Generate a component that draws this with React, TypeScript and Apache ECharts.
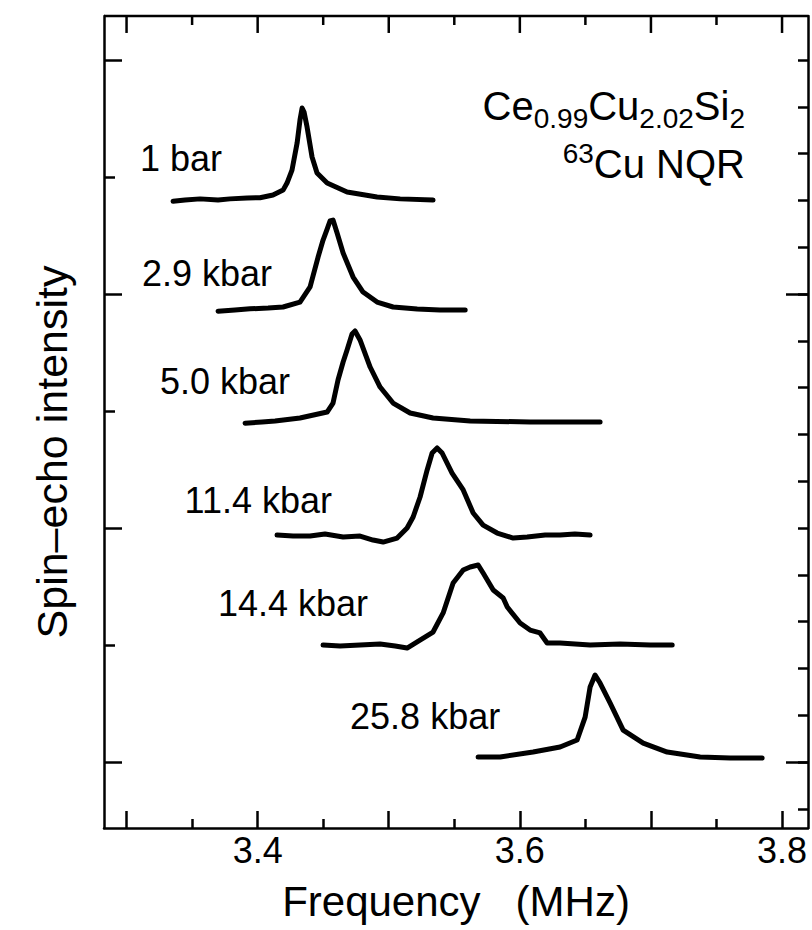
import React, { useEffect, useRef } from "react";
import * as echarts from "echarts";

// ---- data (frequency in MHz, intensity relative to each trace's baseline) ----
const pressureLabels = ["1 bar", "2.9 kbar", "5.0 kbar", "11.4 kbar", "14.4 kbar", "25.8 kbar"];
const baselineOffsets = [4.803, 3.863, 2.906, 1.94, 1.0, 0.034];

const spec1bar: [number, number][] = [
  [3.3355, -0.01], [3.3446, 0.0], [3.3561, 0.01], [3.3698, 0.0], [3.3789, 0.01], [3.392, 0.017],
  [3.4018, 0.02], [3.4117, 0.043], [3.4194, 0.085], [3.4224, 0.145], [3.4262, 0.256], [3.4301, 0.487],
  [3.4323, 0.684], [3.4339, 0.786], [3.4354, 0.752], [3.4377, 0.624], [3.4415, 0.368], [3.4453, 0.231],
  [3.453, 0.145], [3.4682, 0.068], [3.4911, 0.026], [3.5087, 0.01], [3.5338, 0.0],
];
const spec2p9: [number, number][] = [
  [3.3698, -0.01], [3.3827, 0.0], [3.3942, 0.01], [3.408, 0.017], [3.4194, 0.026], [3.4323, 0.068],
  [3.44, 0.197], [3.4461, 0.453], [3.4499, 0.598], [3.453, 0.692], [3.4552, 0.761], [3.4575, 0.769],
  [3.4606, 0.658], [3.4652, 0.487], [3.4728, 0.282], [3.4804, 0.154], [3.4911, 0.068], [3.5033, 0.026],
  [3.5217, 0.009], [3.539, 0.0], [3.5583, 0.0],
];
const spec5p0: [number, number][] = [
  [3.3904, -0.01], [3.4034, 0.0], [3.4133, 0.009], [3.4323, 0.034], [3.453, 0.085], [3.4575, 0.162],
  [3.4613, 0.359], [3.4652, 0.513], [3.4682, 0.615], [3.472, 0.752], [3.4743, 0.778], [3.4781, 0.701],
  [3.4858, 0.47], [3.4934, 0.299], [3.5033, 0.162], [3.5163, 0.077], [3.5338, 0.034], [3.5621, 0.009],
  [3.6078, 0.0], [3.6612, 0.0],
];
const spec11p4: [number, number][] = [
  [3.4148, 0.0], [3.427, -0.009], [3.44, -0.009], [3.4514, 0.009], [3.4652, -0.017], [3.4781, -0.009],
  [3.488, -0.043], [3.4957, -0.06], [3.5064, -0.026], [3.514, 0.06], [3.5186, 0.154], [3.5239, 0.325],
  [3.5293, 0.556], [3.5331, 0.701], [3.5369, 0.744], [3.5407, 0.701], [3.5483, 0.53], [3.5568, 0.385],
  [3.5644, 0.188], [3.572, 0.085], [3.5827, 0.017], [3.5949, -0.026], [3.6056, -0.017], [3.6193, 0.0],
  [3.6307, 0.0], [3.642, 0.009], [3.6536, 0.0],
];
const spec14p4: [number, number][] = [
  [3.4499, 0.0], [3.4629, -0.009], [3.4781, 0.0], [3.4934, 0.009], [3.5049, -0.009], [3.514, -0.026],
  [3.5217, 0.026], [3.5338, 0.111], [3.5415, 0.274], [3.5491, 0.53], [3.5568, 0.641], [3.5621, 0.667],
  [3.5682, 0.684], [3.572, 0.615], [3.5797, 0.47], [3.5873, 0.402], [3.5904, 0.325], [3.6002, 0.188],
  [3.6078, 0.128], [3.6154, 0.103], [3.6208, 0.017], [3.6307, 0.017], [3.6536, 0.0], [3.6765, 0.009],
  [3.6994, 0.0], [3.7162, 0.0],
];
const spec25p8: [number, number][] = [
  [3.5682, 0.009], [3.585, 0.009], [3.6101, 0.051], [3.6307, 0.094], [3.6437, 0.154], [3.6498, 0.35],
  [3.6536, 0.607], [3.6574, 0.709], [3.6612, 0.641], [3.6689, 0.47], [3.6788, 0.239], [3.6941, 0.128],
  [3.7124, 0.051], [3.7375, 0.009], [3.7604, 0.0], [3.7848, 0.0],
];
const spectra = [spec1bar, spec2p9, spec5p0, spec11p4, spec14p4, spec25p8];

// label anchor: [frequency of label's right end, vertical value of label middle]
const labelAnchors: [number, number][] = [
  [3.3728, 5.162], [3.411, 4.179], [3.4247, 3.256], [3.4567, 2.239], [3.4842, 1.359], [3.585, 0.393],
];

const xMajorTicks = [3.3, 3.4, 3.5, 3.6, 3.7, 3.8];
const xMinorTicks = [3.35, 3.45, 3.55, 3.65, 3.75];
const xTickLabels = [3.4, 3.6, 3.8];
const yLeftMajor = [0, 2, 4, 6];
const yLeftMinor = [1, 3, 5];
const yRightMinor = [-0.4, 0, 0.4, 0.8, 1.2, 1.6, 2.0, 2.4, 2.8, 3.2, 3.6, 4.0, 4.4, 4.8, 5.2, 5.6, 6.0];
const yRightMajor = [0, 4];

const FONT = "Liberation Sans";
const X_MIN = 3.2828;
const X_MAX = 3.8198;
const Y_MIN = -0.564;
const Y_MAX = 6.376;
// top-frame tick lengths in y-axis units (the frame has no axis of its own)
const TOP_MAJOR_LEN = 0.145;
const TOP_MINOR_LEN = 0.077;

function measure(t: string, size: number) {
  const ctx = document.createElement("canvas").getContext("2d");
  if (!ctx) return t.length * size * 0.55;
  ctx.font = `${size}px "${FONT}"`;
  return ctx.measureText(t).width;
}

type Seg = { t: string; size: number; dy: number };
function buildLine(segs: Seg[], right: number, baseline: number) {
  const widths = segs.map((s) => measure(s.t, s.size));
  let x = right - widths.reduce((a, b) => a + b, 0);
  return segs.map((s, i) => {
    const el = {
      type: "text",
      x,
      y: baseline + s.dy - 0.3465 * s.size,
      silent: true,
      style: { text: s.t, fontSize: s.size, fontFamily: FONT, fill: "#000", align: "left", verticalAlign: "middle" },
    };
    x += widths[i];
    return el;
  });
}

const plotRect = () => ({ left: 104, right: 4, top: 16, bottom: 102 });
const lineOn = () => ({ show: true, onZero: false, lineStyle: { color: "#000", width: 2.5 } });
const lineOff = () => ({ show: false, onZero: false });
const tick = (len: number, values: number[]) => ({
  show: true,
  inside: true,
  length: len,
  customValues: values,
  lineStyle: { color: "#000", width: 2.5 },
});
const xAx = (gridIndex: number, axisLine: any, axisTick: any, extra: any = {}) => ({
  type: "value",
  min: X_MIN,
  max: X_MAX,
  gridIndex,
  position: "bottom",
  axisLine,
  axisTick,
  splitLine: { show: false },
  axisLabel: { show: false },
  ...extra,
});
const yAx = (gridIndex: number, position: string, axisLine: any, axisTick: any) => ({
  type: "value",
  min: Y_MIN,
  max: Y_MAX,
  gridIndex,
  position,
  axisLine,
  axisTick,
  splitLine: { show: false },
  axisLabel: { show: false },
});
const segSeries = (pts: [number, number][], width = 2.5) => ({
  type: "line",
  xAxisIndex: 0,
  yAxisIndex: 0,
  showSymbol: false,
  silent: true,
  clip: false,
  lineStyle: { color: "#000", width },
  data: pts,
});

export default function App() {
  const ref = useRef<HTMLDivElement>(null);
  useEffect(() => {
    document.body.style.margin = "0";
    if (!ref.current) return;
    const chart = echarts.init(ref.current, undefined, { renderer: "svg" });

    const line1 = buildLine(
      [
        { t: "Ce", size: 40, dy: 0 },
        { t: "0.99", size: 28, dy: 8 },
        { t: "Cu", size: 40, dy: 0 },
        { t: "2.02", size: 28, dy: 8 },
        { t: "Si", size: 40, dy: 0 },
        { t: "2", size: 28, dy: 8 },
      ],
      745,
      120
    );
    const line2 = buildLine(
      [
        { t: "63", size: 28, dy: -15 },
        { t: "Cu NQR", size: 40, dy: 0 },
      ],
      745,
      178
    );
    const yName = {
      type: "text",
      x: 52,
      y: 452,
      rotation: Math.PI / 2,
      silent: true,
      style: {
        text: "Spin–echo intensity",
        fontSize: 43,
        fontFamily: FONT,
        fill: "#000",
        align: "center",
        verticalAlign: "middle",
      },
    };

    // top frame line and its downward ticks, drawn through the axes' scales
    const topFrame = [
      segSeries([[X_MIN, Y_MAX], [X_MAX, Y_MAX]]),
      ...xMajorTicks.map((v) => segSeries([[v, Y_MAX], [v, Y_MAX - TOP_MAJOR_LEN]])),
      ...xMinorTicks.map((v) => segSeries([[v, Y_MAX], [v, Y_MAX - TOP_MINOR_LEN]])),
    ];

    chart.setOption({
      animation: false,
      grid: [plotRect(), plotRect()],
      xAxis: [
        xAx(0, lineOn(), tick(17, xMajorTicks), {
          axisLabel: {
            show: true,
            customValues: xTickLabels,
            formatter: (v: number) => v.toFixed(1),
            fontSize: 36,
            fontFamily: FONT,
            color: "#000",
            margin: 4,
          },
          name: "Frequency   (MHz)",
          nameLocation: "middle",
          nameGap: 52,
          nameTextStyle: { fontSize: 42, fontFamily: FONT, color: "#000" },
        }),
        xAx(1, lineOff(), tick(9, xMinorTicks)),
      ],
      yAxis: [
        yAx(0, "left", lineOn(), tick(18, yLeftMajor)),
        yAx(0, "right", lineOn(), tick(10, yRightMinor)),
        yAx(1, "left", lineOff(), tick(11, yLeftMinor)),
        yAx(1, "right", lineOff(), tick(22, yRightMajor)),
      ],
      series: [
        ...spectra.map((s, i) => ({
          type: "line",
          name: pressureLabels[i],
          xAxisIndex: 0,
          yAxisIndex: 0,
          showSymbol: false,
          silent: true,
          lineStyle: { color: "#000", width: 5, join: "round", cap: "round" },
          data: s.map(([f, v]) => [f, v + baselineOffsets[i]]),
        })),
        ...topFrame,
        {
          type: "scatter",
          xAxisIndex: 0,
          yAxisIndex: 0,
          symbolSize: 0,
          silent: true,
          itemStyle: { color: "#000", opacity: 1 },
          label: {
            show: true,
            position: "left",
            distance: 0,
            color: "#000",
            opacity: 1,
            fontSize: 36,
            fontFamily: FONT,
            formatter: (p: any) => pressureLabels[p.dataIndex],
          },
          data: labelAnchors,
        },
      ],
      graphic: [...line1, ...line2, yName],
    });

    return () => chart.dispose();
  }, []);
  return <div ref={ref} style={{ width: 812, height: 930 }} />;
}
